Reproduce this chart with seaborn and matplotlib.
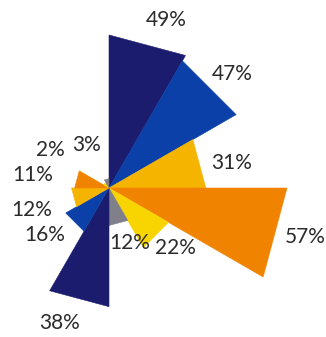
import numpy as np
import matplotlib
matplotlib.use("Agg")
import matplotlib.pyplot as plt
import seaborn as sns

# data
categories = ["A", "B", "C", "D", "E", "F", "G", "H", "I", "J", "K", "L"]
values = [49, 47, 31, 57, 22, 12, 38, 16, 12, 11, 2, 3]
labels = ["49%", "47%", "31%", "57%", "22%", "12%", "38%", "16%", "12%", "11%", "2%", "3%"]

palette = ["#1c1c6e", "#0b40a8", "#f5b400", "#f08400", "#f8d400", "#80808a"]
colors = [palette[i % len(palette)] for i in range(len(values))]

# label layout (angle in degrees clockwise from north, radius in value units)
label_theta = [18.7, 47.2, 78.5, 104.0, 132.3, 159.1, 200.3, 233.7, 254.0, 279.7, 302.8, 331.9]
label_rad = [56.8, 53.7, 40.2, 64.7, 28.6, 18.9, 46.1, 25.4, 25.6, 24.7, 22.5, 15.6]

sns.set_theme(style="white")
plt.rcParams["font.family"] = ["Lato", "DejaVu Sans"]

W, H = 326, 337
fig = plt.figure(figsize=(W / 100, H / 100), dpi=100)
cx, cy = 109, 188          # centre in pixels (from top)
rmax = 62
R = 178 / 57 * rmax        # axes radius in pixels
ax = fig.add_axes([(cx - R) / W, (H - cy - R) / H, 2 * R / W, 2 * R / H],
                  projection="polar")
ax.set_theta_zero_location("N")
ax.set_theta_direction(-1)
ax.set_ylim(0, rmax)
ax.set_axis_off()

n = len(values)
step = 2 * np.pi / n
for i, (v, c) in enumerate(zip(values, colors)):
    t0, t1 = i * step, (i + 1) * step
    ax.fill([0, t0, t1, 0], [0, v, v, 0], color=c, lw=0.4, ec=c, zorder=2)

for lab, th, r in zip(labels, label_theta, label_rad):
    ax.text(np.deg2rad(th), r, lab, ha="center", va="center", fontsize=15,
            color="#2b2b2b", clip_on=False)

fig.savefig("out.png", dpi=100, facecolor="white")
